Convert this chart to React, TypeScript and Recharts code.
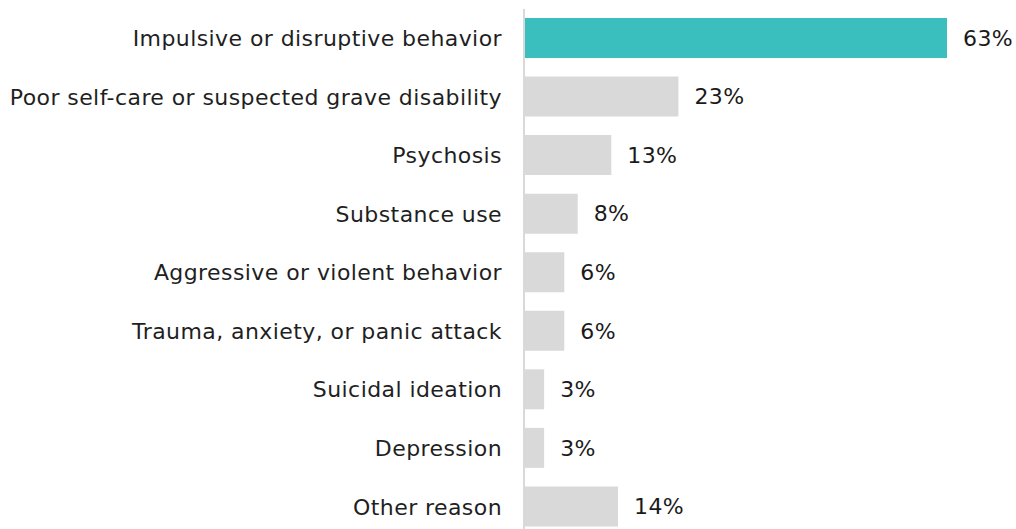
import React from 'react';
import { BarChart, Bar, XAxis, YAxis, Cell, LabelList } from 'recharts';

const reasons = [
  'Impulsive or disruptive behavior',
  'Poor self-care or suspected grave disability',
  'Psychosis',
  'Substance use',
  'Aggressive or violent behavior',
  'Trauma, anxiety, or panic attack',
  'Suicidal ideation',
  'Depression',
  'Other reason',
];

const shares = [63, 23, 13, 8, 6, 6, 3, 3, 14];

const highlight = '#3bbfbe';
const muted = '#d9d9d9';

const data = reasons.map((reason, i) => ({ reason, share: shares[i] }));

const App: React.FC = () => {
  return (
    <div style={{ position: 'absolute', left: 0, top: 0, fontFamily: '"DejaVu Sans", Verdana, sans-serif' }}>
      <BarChart
        width={1016}
        height={536}
        data={data}
        layout="vertical"
        margin={{ top: 9, right: 22, left: 0, bottom: 0 }}
      >
        <XAxis type="number" domain={[0, 70]} hide />
        <YAxis
          type="category"
          dataKey="reason"
          width={524}
          tickLine={false}
          tickSize={0}
          tickMargin={22}
          axisLine={{ stroke: muted, strokeWidth: 2 }}
          tick={{ fontSize: 22, fill: '#1f1f1f', letterSpacing: 0.42 }}
        />
        <Bar dataKey="share" barSize={40} isAnimationActive={false}>
          {data.map((d, i) => (
            <Cell key={d.reason} fill={i === 0 ? highlight : muted} />
          ))}
          <LabelList
            dataKey="share"
            position="right"
            offset={16}
            formatter={(v: number) => `${v}%`}
            style={{ fontSize: 22, fill: '#1a1a1a', letterSpacing: 0.42 }}
          />
        </Bar>
      </BarChart>
    </div>
  );
};

export default App;
